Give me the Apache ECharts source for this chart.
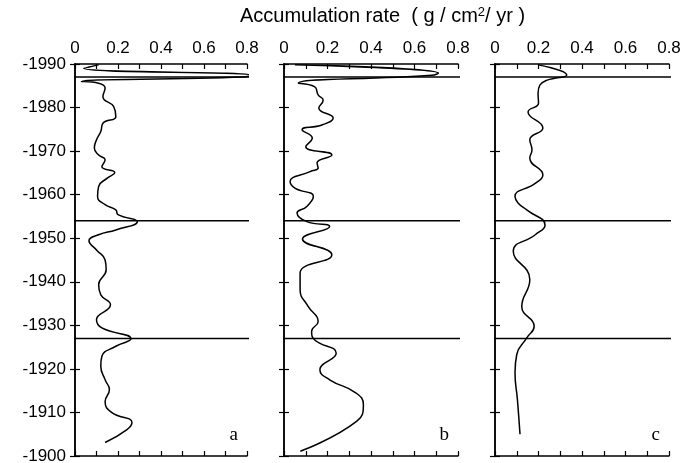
<!DOCTYPE html>
<html>
<head>
<meta charset="utf-8">
<script src="https://cdn.jsdelivr.net/npm/echarts@6/dist/echarts.min.js"></script>
<style>
  html, body { margin: 0; padding: 0; background: #fff; }
  #chart { width: 694px; height: 463px; }
</style>
</head>
<body>
<div id="chart"></div>
<script>
// years (negative, as on the axis) and accumulation rates
var yearsA = [-1989.8, -1989, -1987.4, -1987.0, -1986, -1985.6, -1984.5, -1982.5, -1980.2, -1977.9, -1976.4, -1974.5, -1972.6, -1970.7, -1969.1, -1968, -1966.4, -1965.1, -1963.8, -1961.9, -1959.6, -1957.7, -1956.5, -1955.4, -1953.8, -1951.9, -1950.8, -1949.4, -1947.3, -1945, -1942.8, -1939.3, -1937, -1934.7, -1931.3, -1929.4, -1926.9, -1925.2, -1922.9, -1920.6, -1917.5, -1915.2, -1912.5, -1910, -1907.7, -1906, -1903.1];
var ratesA = [0.11, 0.04, 0.82, 0.78, 0.03, 0.11, 0.14, 0.13, 0.18, 0.19, 0.13, 0.12, 0.10, 0.09, 0.11, 0.14, 0.125, 0.185, 0.15, 0.11, 0.105, 0.14, 0.19, 0.20, 0.29, 0.19, 0.11, 0.065, 0.10, 0.14, 0.145, 0.11, 0.12, 0.165, 0.10, 0.125, 0.26, 0.19, 0.125, 0.12, 0.14, 0.16, 0.14, 0.17, 0.265, 0.24, 0.14];

var yearsB = [-1989.8, -1987.9, -1987.4, -1985.6, -1984.8, -1982.9, -1981.7, -1979.9, -1977.6, -1976, -1974.9, -1973, -1971, -1969.1, -1967.3, -1966.1, -1965.3, -1963, -1961.5, -1959.6, -1957.3, -1955.8, -1953.8, -1952.7, -1949.8, -1946.2, -1942, -1938.2, -1934.4, -1930.9, -1928.6, -1926.7, -1923.6, -1919.8, -1917.5, -1914.5, -1911.8, -1908, -1901.1];
var ratesB = [0.05, 0.71, 0.68, 0.066, 0.14, 0.157, 0.18, 0.16, 0.226, 0.175, 0.083, 0.13, 0.10, 0.22, 0.152, 0.157, 0.12, 0.028, 0.05, 0.135, 0.105, 0.06, 0.105, 0.21, 0.085, 0.22, 0.074, 0.074, 0.11, 0.157, 0.127, 0.14, 0.24, 0.165, 0.21, 0.33, 0.365, 0.335, 0.075];

var yearsC = [-1989.8, -1987.5, -1986.3, -1985.2, -1983.3, -1981, -1979, -1975.3, -1972.6, -1970.3, -1968.4, -1964.5, -1962.6, -1959.6, -1958.1, -1956.5, -1953, -1950.8, -1947, -1940.5, -1934.3, -1929.8, -1927.1, -1923.3, -1919.1, -1913, -1905];
var ratesC = [0.2, 0.33, 0.24, 0.207, 0.198, 0.2, 0.152, 0.22, 0.16, 0.17, 0.16, 0.22, 0.185, 0.092, 0.106, 0.146, 0.23, 0.185, 0.084, 0.16, 0.123, 0.18, 0.146, 0.1, 0.092, 0.103, 0.115];

// dated horizons drawn across every panel (slightly overshooting the frame)
var horizons = [-1987, -1954, -1927];
var horizonSpan = [-0.02, 0.82];
var panelLetters = ['a', 'b', 'c'];
var xTicks = ['0', '0.2', '0.4', '0.6', '0.8'];

var font = 'Liberation Sans';
var panels = [
  { left: 75, width: 172, years: yearsA, rates: ratesA },
  { left: 284, width: 174, years: yearsB, rates: ratesB },
  { left: 495, width: 174, years: yearsC, rates: ratesC }
];
var gridTop = 64, gridH = 392;

function pairs(ys, xs) {
  var out = [];
  for (var i = 0; i < ys.length; i++) out.push([xs[i], ys[i]]);
  return out;
}

var grids = [], xAxes = [], yAxes = [], series = [], graphics = [];
panels.forEach(function (p, i) {
  grids.push({
    left: p.left, top: gridTop, width: p.width, height: gridH,
    containLabel: false, outerBoundsMode: 'none'
  });
  // top axis carries the labels, bottom one only ticks
  ['top', 'bottom'].forEach(function (pos) {
    xAxes.push({
      type: 'value', gridIndex: i, position: pos, min: 0, max: 0.8, interval: 0.1,
      axisLine: { show: true, lineStyle: { color: '#000', width: 1.5 } },
      axisTick: { show: true, inside: true, length: 5, lineStyle: { color: '#000', width: 1.2 } },
      axisLabel: {
        show: pos === 'top', color: '#000', fontFamily: font, fontSize: 17, margin: 7,
        formatter: function (v) {
          var k = Math.round(v * 10);
          return k % 2 === 0 ? xTicks[k / 2] : '';
        }
      },
      splitLine: { show: false }
    });
  });
  ['left', 'right'].forEach(function (pos) {
    yAxes.push({
      type: 'value', gridIndex: i, position: pos, min: -1990, max: -1900, interval: 10, inverse: true,
      axisLine: { show: true, lineStyle: { color: '#000', width: 1.5 } },
      axisTick: { show: true, inside: true, length: 5, lineStyle: { color: '#000', width: 1.2 } },
      axisLabel: {
        show: i === 0 && pos === 'left', color: '#000', fontFamily: font, fontSize: 17, margin: 9,
        formatter: function (v) { return String(v); }
      },
      splitLine: { show: false }
    });
  });
  series.push({
    type: 'line', xAxisIndex: i * 2, yAxisIndex: i * 2,
    data: pairs(p.years, p.rates),
    smooth: 0.5, symbol: 'none', clip: false,
    lineStyle: { color: '#000', width: 1.5 }
  });
  horizons.forEach(function (h) {
    series.push({
      type: 'line', xAxisIndex: i * 2, yAxisIndex: i * 2,
      data: [[horizonSpan[0], h], [horizonSpan[1], h]],
      symbol: 'none', clip: false, silent: true,
      lineStyle: { color: '#000', width: 1.5 }
    });
  });
  graphics.push({
    type: 'text', right: 694 - (p.left + p.width) + 9, top: 426,
    style: { text: panelLetters[i], font: '19px "Liberation Serif"', fill: '#000' }
  });
});

graphics.push({
  type: 'text', left: 240, top: 6,
  style: {
    text: '{a|Accumulation rate  ( g / cm}{s|2}{a|/ yr )}',
    rich: {
      a: { fontFamily: font, fontSize: 20, fill: '#000' },
      s: { fontFamily: font, fontSize: 13, fill: '#000', verticalAlign: 'top', padding: [0, 0, 7, 0] }
    }
  }
});

var chart = echarts.init(document.getElementById('chart'), null, { renderer: 'canvas' });
chart.setOption({
  animation: false,
  backgroundColor: '#fff',
  grid: grids,
  xAxis: xAxes,
  yAxis: yAxes,
  series: series,
  graphic: graphics
});
</script>
</body>
</html>
